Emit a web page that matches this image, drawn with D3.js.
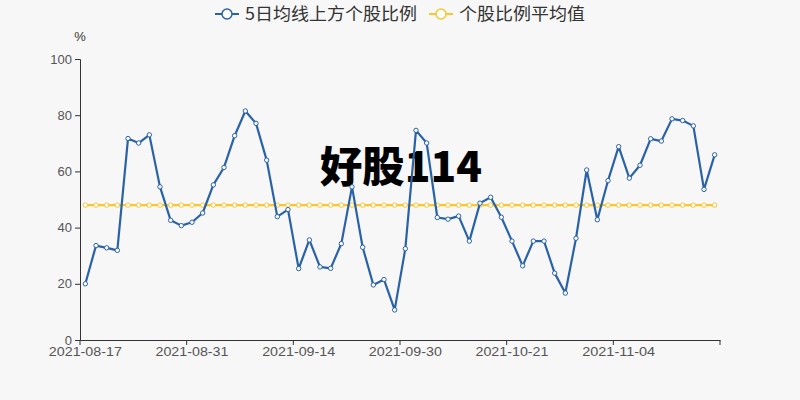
<!DOCTYPE html>
<html><head><meta charset="utf-8">
<script src="https://cdn.jsdelivr.net/npm/d3@7"></script>
<style>
html,body{margin:0;padding:0;background:#f7f7f7;}
svg{display:block;}
text{font-family:"Noto Sans CJK SC","Noto Sans",sans-serif;}
</style></head>
<body><div id="chart"></div>
<script>
const dates = ["2021-08-17","2021-08-18","2021-08-19","2021-08-20","2021-08-23","2021-08-24","2021-08-25","2021-08-26","2021-08-27","2021-08-30",
"2021-08-31","2021-09-01","2021-09-02","2021-09-03","2021-09-06","2021-09-07","2021-09-08","2021-09-09","2021-09-10","2021-09-13",
"2021-09-14","2021-09-15","2021-09-16","2021-09-17","2021-09-22","2021-09-23","2021-09-24","2021-09-27","2021-09-28","2021-09-29",
"2021-09-30","2021-10-08","2021-10-11","2021-10-12","2021-10-13","2021-10-14","2021-10-15","2021-10-18","2021-10-19","2021-10-20",
"2021-10-21","2021-10-22","2021-10-25","2021-10-26","2021-10-27","2021-10-28","2021-10-29","2021-11-01","2021-11-02","2021-11-03",
"2021-11-04","2021-11-05","2021-11-08","2021-11-09","2021-11-10","2021-11-11","2021-11-12","2021-11-15","2021-11-16","2021-11-17"];
const aboveMA5 = [20.0,33.6,32.8,31.9,71.7,70.1,73.0,54.5,42.6,40.7,
41.9,45.2,55.2,61.4,72.7,81.5,77.1,64.0,43.9,46.4,
25.4,35.6,26.0,25.5,34.3,54.5,33.0,19.6,21.5,10.7,
32.5,74.6,70.1,43.6,43.0,44.1,35.2,48.7,50.8,43.7,
35.2,26.4,35.2,35.2,23.8,16.7,36.2,60.5,42.8,56.7,
68.8,57.6,62.2,71.6,70.8,78.7,78.1,76.2,53.6,65.9];
const avgValue = 48.0;
const avgSeries = dates.map(() => avgValue);
const yTicks = [0,20,40,60,80,100];
const seriesNames = ["5日均线上方个股比例","个股比例平均值"];
const colors = ["#2a62a8","#f7c72c"];

const W = 800, H = 400;
const margin = {left:80, right:80, top:59, bottom:60};
const svg = d3.select("#chart").append("svg").attr("width",W).attr("height",H);
svg.append("rect").attr("width",W).attr("height",H).attr("fill","#f7f7f7");

const x = d3.scaleBand().domain(dates).range([margin.left, W-margin.right]);
const y = d3.scaleLinear().domain([0,100]).range([H-margin.bottom, margin.top]);
const cx = d => x(d) + x.bandwidth()/2;

// watermark
svg.append("text").attr("x",401).attr("y",182).attr("text-anchor","middle")
  .attr("font-size",42).attr("font-weight",900).attr("fill","#000")
  .attr("textLength",162).attr("lengthAdjust","spacingAndGlyphs").text("好股114");

// y axis
const yAxis = svg.append("g").attr("transform",`translate(${margin.left},0)`)
  .call(d3.axisLeft(y).tickValues(yTicks).tickSize(5).tickPadding(3));
yAxis.select(".domain").attr("stroke","#333");
yAxis.selectAll(".tick line").attr("stroke","#333");
yAxis.selectAll(".tick text").attr("fill","#555").attr("font-size",13)
  .style("font-family","'Liberation Sans',Arial,sans-serif");

// x axis
const labelDates = dates.filter((d,i)=>i%10===0);
const xAxis = svg.append("g").attr("transform",`translate(0,${H-margin.bottom})`)
  .call(d3.axisBottom(x).tickValues(labelDates).tickSize(0).tickPadding(7));
xAxis.select(".domain").attr("stroke","#333");
xAxis.selectAll(".tick text").attr("fill","#555").attr("font-size",13)
  .attr("textLength",73).attr("lengthAdjust","spacingAndGlyphs")
  .style("font-family","'Liberation Sans',Arial,sans-serif");
// band-boundary ticks every 10 categories plus the end
const tickPos = dates.map((d,i)=>i).filter(i=>i%10===0).map(i=>x(dates[i])).concat([W-margin.right]);
svg.append("g").selectAll("line").data(tickPos).join("line")
  .attr("x1",d=>d).attr("x2",d=>d).attr("y1",H-margin.bottom).attr("y2",H-margin.bottom+5)
  .attr("stroke","#333");

// axis name
svg.append("text").attr("x",margin.left).attr("y",41).attr("text-anchor","middle")
  .attr("font-size",13).attr("fill","#333").style("font-family","'Liberation Sans',Arial,sans-serif").text("%");

// lines
const line = d3.line().x((d,i)=>cx(dates[i])).y(d=>y(d));
function drawSeries(vals,color){
  svg.append("path").datum(vals).attr("d",line).attr("fill","none")
    .attr("stroke",color).attr("stroke-width",2.2).attr("stroke-linejoin","round");
  svg.append("g").selectAll("circle").data(vals).join("circle")
    .attr("cx",(d,i)=>cx(dates[i])).attr("cy",d=>y(d)).attr("r",2.2)
    .attr("fill","#fff").attr("stroke",color).attr("stroke-width",1);
}
drawSeries(avgSeries,colors[1]);
drawSeries(aboveMA5,colors[0]);

// legend
const legendItems = [{name:seriesNames[0],color:colors[0],x:215,w:172},{name:seriesNames[1],color:colors[1],x:429,w:126}];
const lg = svg.append("g");
legendItems.forEach(it=>{
  const g = lg.append("g").attr("transform",`translate(${it.x},14)`);
  g.append("line").attr("x1",0).attr("x2",24).attr("y1",0).attr("y2",0).attr("stroke",it.color).attr("stroke-width",2);
  g.append("circle").attr("cx",12).attr("cy",0).attr("r",5).attr("fill","#fff").attr("stroke",it.color).attr("stroke-width",1.5);
  g.append("text").attr("x",30).attr("y",0).attr("dy","0.35em").attr("font-size",17).attr("fill","#333")
    .attr("textLength",it.w).attr("lengthAdjust","spacingAndGlyphs").text(it.name);
});
</script></body></html>
